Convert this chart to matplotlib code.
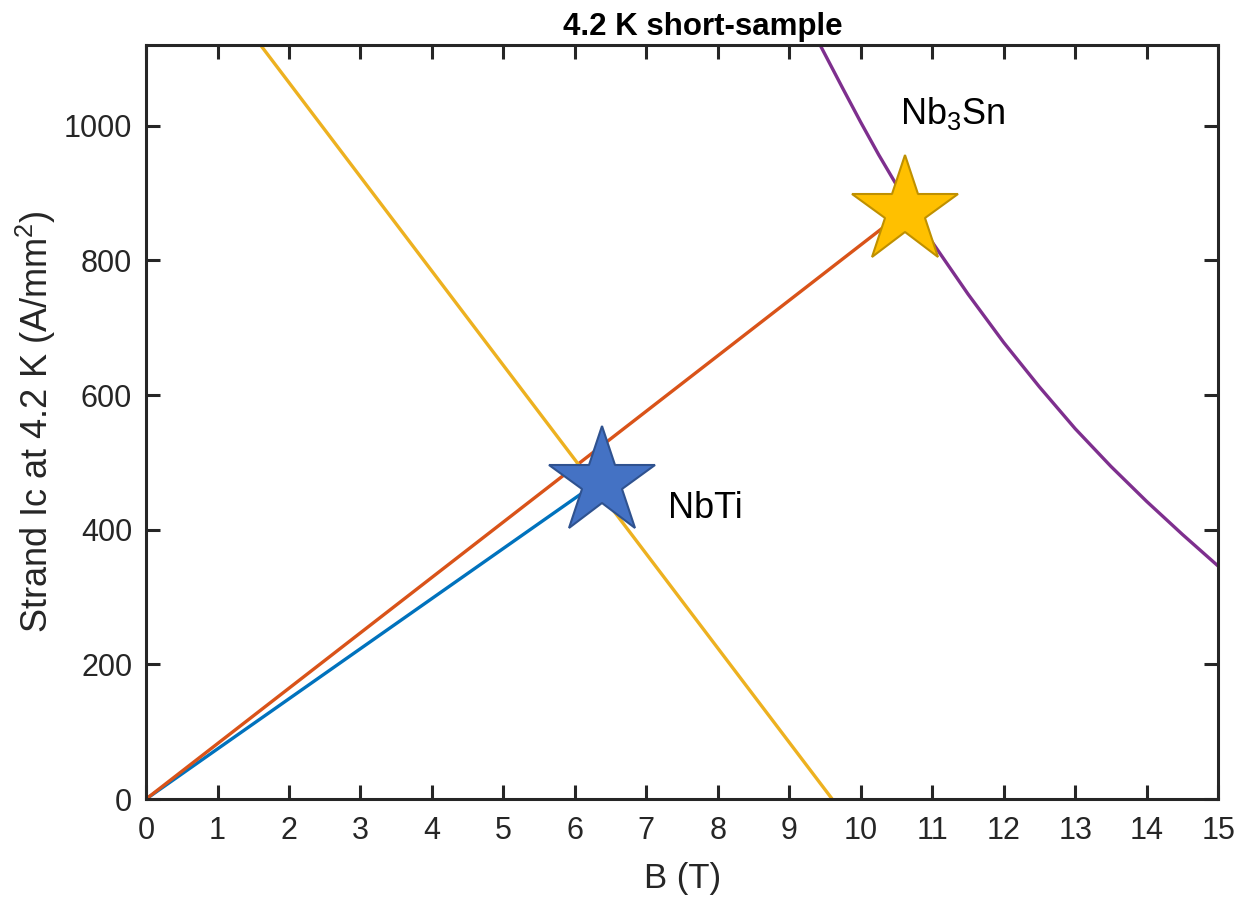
import matplotlib
matplotlib.use('Agg')
import matplotlib.pyplot as plt

plt.rcParams['font.family'] = ['Liberation Sans', 'DejaVu Sans']
plt.rcParams['mathtext.fontset'] = 'custom'
plt.rcParams['mathtext.rm'] = 'Liberation Sans'
plt.rcParams['mathtext.it'] = 'Liberation Sans:italic'

# NbTi strand short-sample line
b_nbti = [0, 6.38]
j_nbti = [0, 475]
# Nb3Sn load line
b_load = [0, 10.62]
j_load = [0, 874]
# NbTi critical current line
b_nbti_ic = [1.6, 9.6]
j_nbti_ic = [1120, 0]
# Nb3Sn critical current curve
b_nb3sn = [9.43, 9.75, 10.0, 10.25, 10.5, 10.75, 11.0, 11.5, 12.0, 12.5, 13.0, 13.5, 14.0, 14.5, 15.0]
j_nb3sn = [1120, 1055, 1005, 957, 912, 868, 827, 750, 678, 612, 550, 494, 442, 393, 346]

# operating points
star_nbti = (6.38, 471)
star_nb3sn = (10.62, 874)

xticks = list(range(0, 16))
yticks = [0, 200, 400, 600, 800, 1000]

axcol = '#262626'

fig = plt.figure(figsize=(12.43, 8.98), dpi=100)
ax = fig.add_axes([0.1175, 0.1102, 0.8625, 0.8398])

ax.plot(b_nbti, j_nbti, color='#0072BD', lw=2.4, zorder=2)
ax.plot(b_load, j_load, color='#D95319', lw=2.4, zorder=2)
ax.plot(b_nbti_ic, j_nbti_ic, color='#EDB120', lw=2.4, zorder=2)
ax.plot(b_nb3sn, j_nb3sn, color='#7E2F8E', lw=2.4, zorder=2)

ax.plot(*star_nbti, marker='*', ms=81, mfc='#4472C4', mec='#2F528F', mew=1.5,
        zorder=5, clip_on=False)
ax.plot(*star_nb3sn, marker='*', ms=81, mfc='#FFC000', mec='#BF9000', mew=1.5,
        zorder=5, clip_on=False)

ax.text(7.30, 417, 'NbTi', fontsize=26, ha='left', va='baseline', color='black')
ax.text(10.55, 1003, 'Nb$_3$Sn', fontsize=26, ha='left', va='baseline', color='black')

ax.set_xlim(0, 15)
ax.set_ylim(0, 1120)
ax.set_xticks(xticks)
ax.set_yticks(yticks)
ax.tick_params(direction='in', length=10, width=2.2, colors=axcol, labelsize=22,
               top=True, right=True)
ax.tick_params(axis='x', pad=12)
ax.tick_params(axis='y', pad=10)
for s in ax.spines.values():
    s.set_linewidth(2.2)
    s.set_color(axcol)

ax.set_xlabel('B (T)', fontsize=25, color=axcol, labelpad=12)
ax.set_ylabel('Strand Ic at 4.2 K (A/mm$^2$)', fontsize=26, color=axcol, labelpad=4)
fig.text(703 / 1243, 1 - 35 / 898, '4.2 K short-sample', fontsize=22.5, fontweight='bold',
         ha='center', va='baseline', color='black')

fig.savefig('out.png', dpi=100)
